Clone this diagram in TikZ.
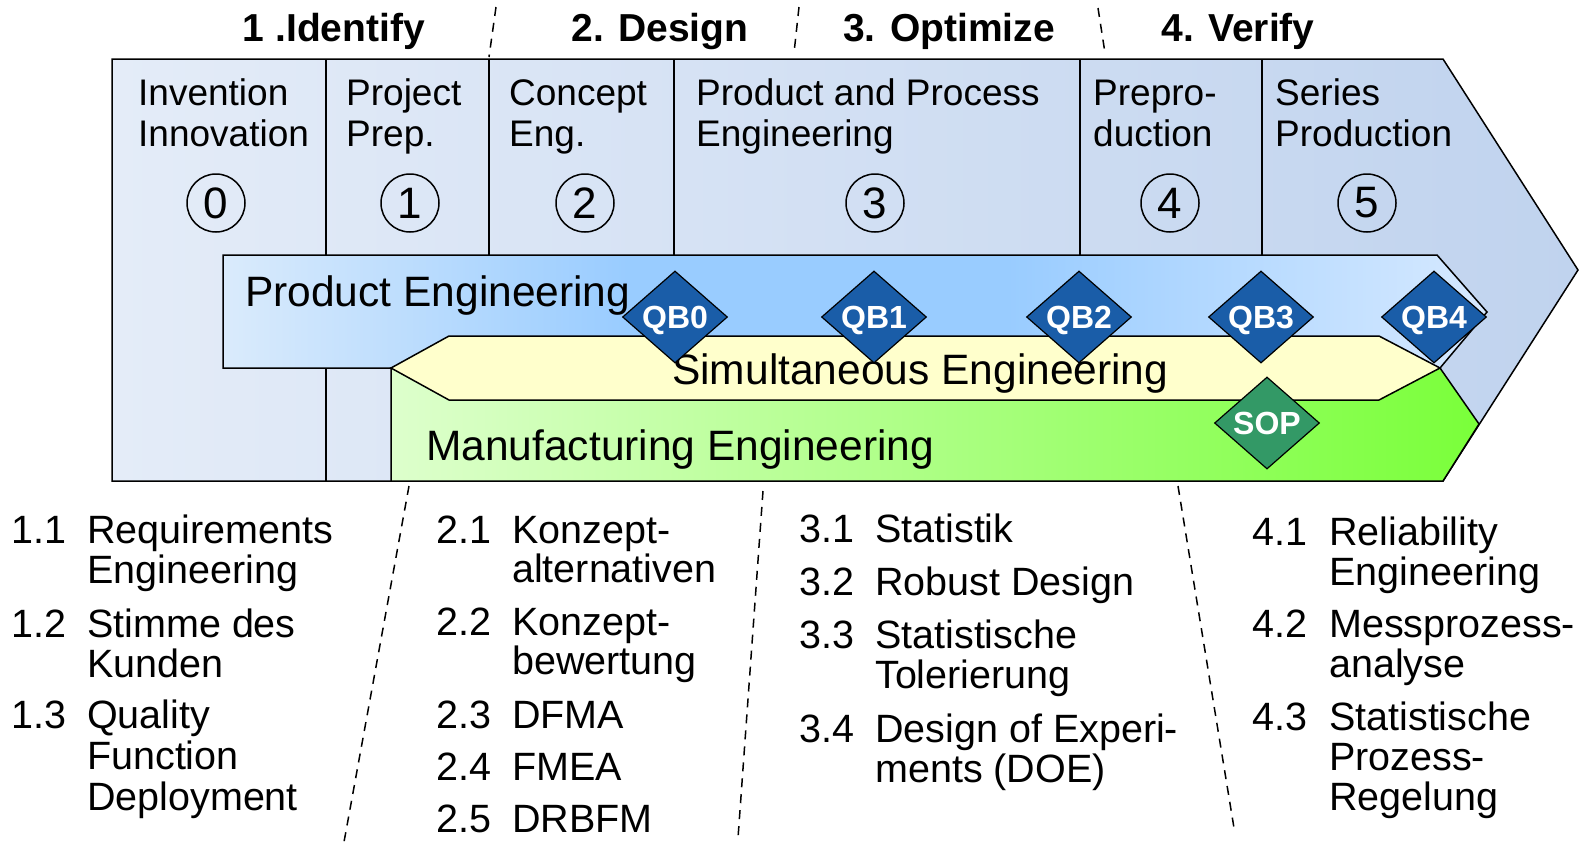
\documentclass[tikz,border=0pt]{standalone}
\usepackage{fontspec}
\setmainfont{Liberation Sans}
\usetikzlibrary{shapes.geometric}
\definecolor{outerL}{HTML}{E4ECF8}
\definecolor{outerR}{HTML}{C0D3EE}
\definecolor{peL}{HTML}{DAEBFC}
\definecolor{peM}{HTML}{99CCFF}
\definecolor{peR}{HTML}{D6E9FF}
\definecolor{seY}{HTML}{FFFFCC}
\definecolor{meL}{HTML}{DDFFCC}
\definecolor{meR}{HTML}{7AFF3A}
\definecolor{qbfill}{HTML}{1A5DA8}
\definecolor{sopfill}{HTML}{339966}
\pgfdeclarehorizontalshading{peshade}{100bp}{color(0bp)=(peL); color(25bp)=(peL); color(41bp)=(peM); color(56bp)=(peM); color(75bp)=(peR); color(100bp)=(peR)}
\begin{document}
\begin{tikzpicture}[x=1pt,y=-1pt,
  edge/.style={draw=black,line width=1.5pt,line join=miter},
  divider/.style={draw=black,line width=1.5pt},
  phasesep/.style={draw=black,line width=1.5pt,dash pattern=on 9pt off 7pt},
  header/.style={anchor=base,inner sep=0,font=\fontsize{39}{44}\bfseries\selectfont},
  celltxt/.style={anchor=base west,inner sep=0,font=\fontsize{37}{41}\selectfont},
  bandtxt/.style={anchor=base west,inner sep=0,font=\fontsize{42.5}{46}\selectfont},
  listtxt/.style={anchor=base west,inner sep=0,font=\fontsize{39.5}{41}\selectfont},
  numcircle/.style={circle,draw=black,line width=1.5pt,minimum size=58pt,inner sep=0,font=\fontsize{44}{48}\selectfont},
  gate/.style={diamond,draw=black,line width=1.2pt,inner sep=0,shape aspect=1.14,minimum width=105pt,minimum height=92pt,text=white,text height=23pt,text depth=0pt,font=\fontsize{32}{34}\bfseries\selectfont},
  qbgate/.style={gate,fill=qbfill},
  sopgate/.style={gate,fill=sopfill}]
\useasboundingbox (0,0) rectangle (1590,844);

% outer arrow
\path[edge,left color=outerL,right color=outerR]
  (112,59) -- (1443,59) -- (1578,270) -- (1443,481) -- (112,481) -- cycle;
% column dividers
\foreach \xx in {326,489,674,1080,1262}
  \draw[divider] (\xx,59) -- (\xx,481);

% phase headers
\node[header] (h1) at (334,41.5) {1 .Identify};
\node[header] (h2) at (660,41.5) {2. Design};
\node[header] (h3) at (949,41.5) {3. Optimize};
\node[header] (h4) at (1238,41.5) {4. Verify};
\coordinate (s1a) at (496,7);  \coordinate (s1b) at (489,57);
\coordinate (s2a) at (799,7);  \coordinate (s2b) at (794,53);
\coordinate (s3a) at (1098,8); \coordinate (s3b) at (1105,53);
\draw[phasesep] (s1a) -- (s1b);
\draw[phasesep] (s2a) -- (s2b);
\draw[phasesep] (s3a) -- (s3b);

% cell texts
\node[celltxt] (c0a) at (138,105) {Invention};
\node[celltxt] (c0b) at (138,146) {Innovation};
\node[celltxt] (c1a) at (346,105) {Project};
\node[celltxt] (c1b) at (346,146) {Prep.};
\node[celltxt] (c2a) at (509,105) {Concept};
\node[celltxt] (c2b) at (509,146) {Eng.};
\node[celltxt] (c3a) at (696,105) {Product and Process};
\node[celltxt] (c3b) at (696,146) {Engineering};
\node[celltxt] (c4a) at (1093,105) {Prepro-};
\node[celltxt] (c4b) at (1093,146) {duction};
\node[celltxt] (c5a) at (1275,105) {Series};
\node[celltxt] (c5b) at (1275,146) {Production};

% numbered circles
\node[numcircle] (n0) at (216,203) {0};
\node[numcircle] (n1) at (410,203) {1};
\node[numcircle] (n2) at (585,203) {2};
\node[numcircle] (n3) at (875,203) {3};
\node[numcircle] (n4) at (1170,203) {4};
\node[numcircle] (n5) at (1367,203) {5};

% product engineering band
\path[edge,shading=peshade]
  (223,255) -- (1437,255) -- (1487,312) -- (1440,368) -- (223,368) -- cycle;
% manufacturing engineering band
\path[edge,left color=meL,right color=meR]
  (391,368) -- (1440,368) -- (1479,424) -- (1443,481) -- (391,481) -- cycle;
% simultaneous engineering band
\path[edge,fill=seY]
  (391,368) -- (449,336) -- (1379,336) -- (1440,368) -- (1379,400) -- (449,400) -- cycle;

\node[bandtxt] (pe) at (245,306) {Product Engineering};
\node[bandtxt] (se) at (672,384) {Simultaneous Engineering};
\node[bandtxt] (me) at (426,460) {Manufacturing Engineering};

% quality gates
\node[qbgate] (qb0) at (675,317) {QB0};
\node[qbgate] (qb1) at (874,317) {QB1};
\node[qbgate] (qb2) at (1079,317) {QB2};
\node[qbgate] (qb3) at (1261,317) {QB3};
\node[qbgate] (qb4) at (1434,317) {QB4};
\node[sopgate] (sop) at (1267,423) {SOP};

% lower separators
\coordinate (l1a) at (409,486); \coordinate (l1b) at (344,842);
\coordinate (l2a) at (763,491); \coordinate (l2b) at (738,838);
\coordinate (l3a) at (1178,486); \coordinate (l3b) at (1234,828);
\draw[phasesep] (l1a) -- (l1b);
\draw[phasesep] (l2a) -- (l2b);
\draw[phasesep] (l3a) -- (l3b);

% list 1
\node[listtxt] (a11) at (11,543) {1.1};
\node[listtxt] (t11a) at (87,543) {Requirements};
\node[listtxt] (t11b) at (87,583) {Engineering};
\node[listtxt] (a12) at (11,637) {1.2};
\node[listtxt] (t12a) at (87,637) {Stimme des};
\node[listtxt] (t12b) at (87,677) {Kunden};
\node[listtxt] (a13) at (11,728) {1.3};
\node[listtxt] (t13a) at (87,728) {Quality};
\node[listtxt] (t13b) at (87,769) {Function};
\node[listtxt] (t13c) at (87,810) {Deployment};
% list 2
\node[listtxt] (a21) at (436,543) {2.1};
\node[listtxt] (t21a) at (512,543) {Konzept-};
\node[listtxt] (t21b) at (512,582) {alternativen};
\node[listtxt] (a22) at (436,635) {2.2};
\node[listtxt] (t22a) at (512,635) {Konzept-};
\node[listtxt] (t22b) at (512,674) {bewertung};
\node[listtxt] (a23) at (436,728) {2.3};
\node[listtxt] (t23) at (512,728) {DFMA};
\node[listtxt] (a24) at (436,780) {2.4};
\node[listtxt] (t24) at (512,780) {FMEA};
\node[listtxt] (a25) at (436,832) {2.5};
\node[listtxt] (t25) at (512,832) {DRBFM};
% list 3
\node[listtxt] (a31) at (799,542) {3.1};
\node[listtxt] (t31) at (875,542) {Statistik};
\node[listtxt] (a32) at (799,595) {3.2};
\node[listtxt] (t32) at (875,595) {Robust Design};
\node[listtxt] (a33) at (799,648) {3.3};
\node[listtxt] (t33a) at (875,648) {Statistische};
\node[listtxt] (t33b) at (875,688) {Tolerierung};
\node[listtxt] (a34) at (799,742) {3.4};
\node[listtxt] (t34a) at (875,742) {Design of Experi-};
\node[listtxt] (t34b) at (875,782) {ments (DOE)};
% list 4
\node[listtxt] (a41) at (1252,545) {4.1};
\node[listtxt] (t41a) at (1329,545) {Reliability};
\node[listtxt] (t41b) at (1329,585) {Engineering};
\node[listtxt] (a42) at (1252,637) {4.2};
\node[listtxt] (t42a) at (1329,637) {Messprozess-};
\node[listtxt] (t42b) at (1329,677) {analyse};
\node[listtxt] (a43) at (1252,730) {4.3};
\node[listtxt] (t43a) at (1329,730) {Statistische};
\node[listtxt] (t43b) at (1329,770) {Prozess-};
\node[listtxt] (t43c) at (1329,810) {Regelung};
\end{tikzpicture}
\end{document}
